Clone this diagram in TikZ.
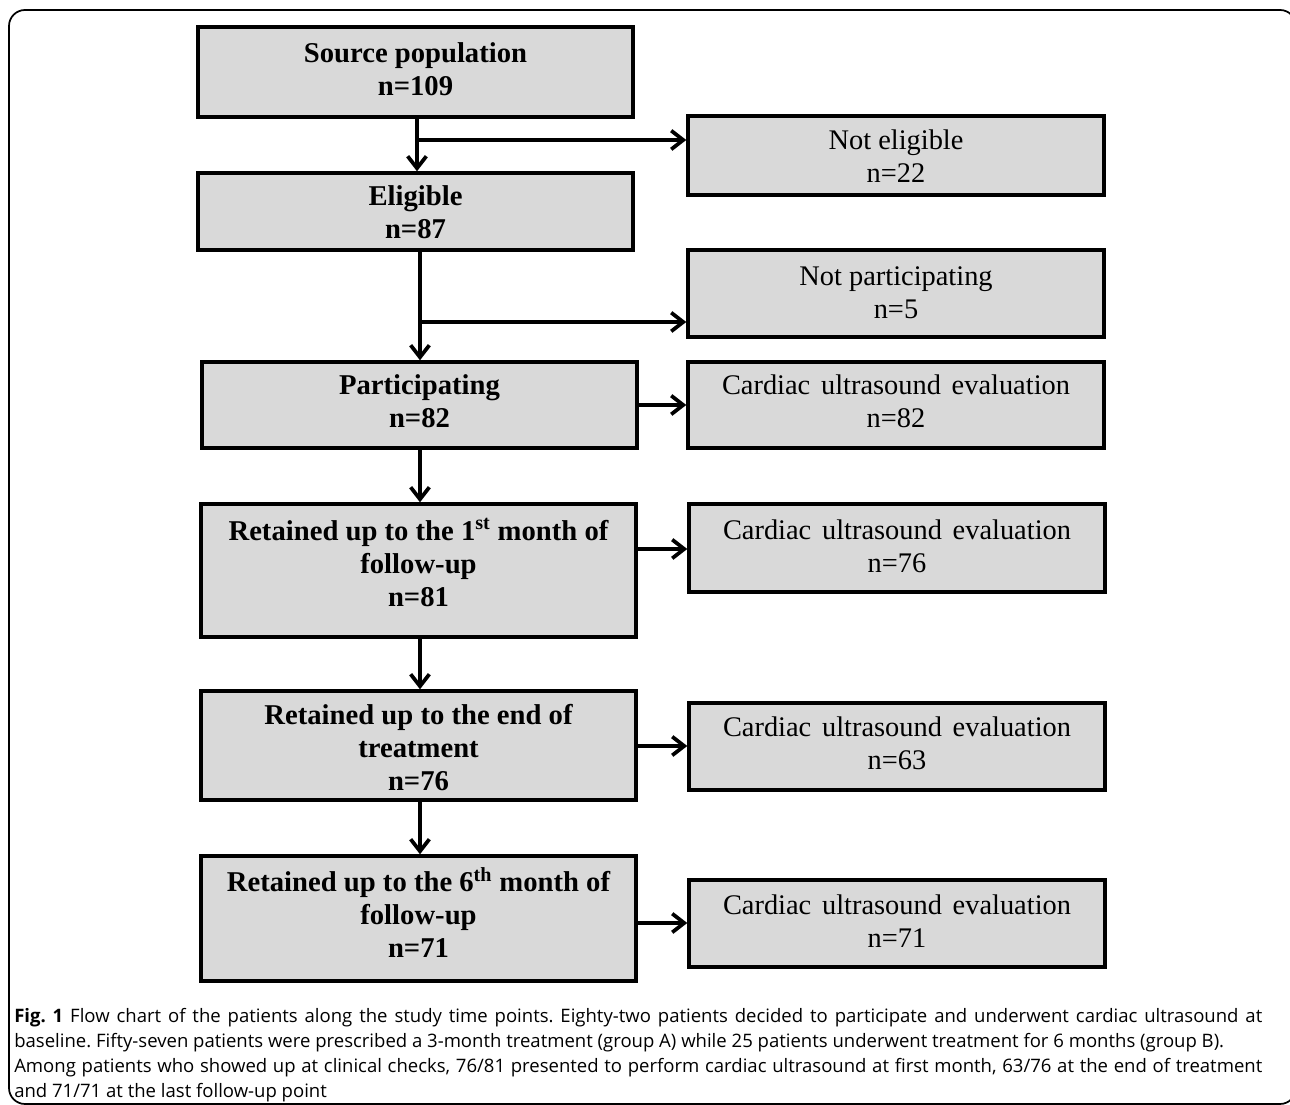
\documentclass[tikz,border=0pt]{standalone}
\usepackage{fontspec}
\setmainfont{Liberation Serif}
\newfontfamily\capfont{Open Sans}
\usetikzlibrary{arrows.meta}
\definecolor{boxgray}{HTML}{D9D9D9}
\begin{document}
\begin{tikzpicture}[x=0.75pt,y=-0.75pt,
  box/.style={draw=black, line width=2.6pt, fill=boxgray, inner sep=0pt},
  lbox/.style={box, minimum width=326.25pt},
  rbox/.style={box, minimum width=312pt},
  ltxt/.style={align=center, inner sep=0pt, font=\fontsize{21.5}{24.75}\selectfont\bfseries},
  rtxt/.style={align=center, inner sep=0pt, font=\fontsize{21.3}{24.75}\selectfont},
  conn/.style={line width=2.8pt, -{Straight Barb[length=9pt,width=14pt,line width=2.8pt]}},
  capline/.style={anchor=base west, inner sep=0pt, font=\capfont\fontsize{13.9}{16}\selectfont\frenchspacing}]
\useasboundingbox (0,0) rectangle (1290,1105);
\begin{scope}
\clip (0,0) rectangle (1290,1105);
\draw[line width=1.3pt, rounded corners=12pt] (9,10) rectangle (1296,1104);
\end{scope}

% left column
\node[lbox, minimum height=67.5pt] (src) at (415.5,72) {};
\node[lbox, minimum height=57.75pt] (elig) at (415.5,211.5) {};
\node[lbox, minimum height=64.5pt] (part) at (419.5,405) {};
\node[lbox, minimum height=99.75pt] (ret1) at (418.5,570.5) {};
\node[lbox, minimum height=81.75pt] (rete) at (418.5,745.5) {};
\node[lbox, minimum height=93.75pt] (ret6) at (418.5,918.5) {};
\node[ltxt, yshift=2.25pt] (srct) at (src.center) {Source population\\n=109};
\node[ltxt, yshift=-0.75pt] (eligt) at (elig.center) {Eligible\\n=87};
\node[ltxt, yshift=3pt] (partt) at (part.center) {Participating\\n=82};
\node[ltxt, yshift=6pt] (ret1t) at (ret1.center) {Retained up to the 1\textsuperscript{st} month of\\follow-up\\n=81};
\node[ltxt, yshift=-1.5pt] (retet) at (rete.center) {Retained up to the end of\\treatment\\n=76};
\node[ltxt, yshift=4.5pt] (ret6t) at (ret6.center) {Retained up to the 6\textsuperscript{th} month of\\follow-up\\n=71};

% right column
\node[rbox, minimum height=59.25pt] (nelig) at (896,155.5) {};
\node[rbox, minimum height=65.25pt] (npart) at (896,293.5) {};
\node[rbox, minimum height=64.5pt] (c82) at (896,405) {};
\node[rbox, minimum height=66pt] (c76) at (897,548) {};
\node[rbox, minimum height=65.25pt] (c63) at (897,746.5) {};
\node[rbox, minimum height=65.25pt] (c71) at (897,923.5) {};
\node[rtxt, yshift=-0.75pt] (neligt) at (nelig.center) {Not eligible\\n=22};
\node[rtxt, yshift=0.75pt] (npartt) at (npart.center) {Not participating\\n=5};
\node[rtxt, yshift=3pt] (c82t) at (c82.center) {\makebox[261pt][s]{Cardiac ultrasound evaluation}\\n=82};
\node[rtxt, yshift=1.5pt] (c76t) at (c76.center) {\makebox[261pt][s]{Cardiac ultrasound evaluation}\\n=76};
\node[rtxt, yshift=2.25pt] (c63t) at (c63.center) {\makebox[261pt][s]{Cardiac ultrasound evaluation}\\n=63};
\node[rtxt, yshift=1.5pt] (c71t) at (c71.center) {\makebox[261pt][s]{Cardiac ultrasound evaluation}\\n=71};

% branch points
\coordinate (b1) at (417,140);
\coordinate (b2) at (420,322);

% connectors
\draw[conn] (src.south -| b1) -- (elig.north -| b1);
\draw[conn] (b1) -- (b1 -| nelig.west);
\draw[conn] (elig.south -| b2) -- (part.north -| b2);
\draw[conn] (b2) -- (b2 -| npart.west);
\draw[conn] (part.east) -- (part.east -| c82.west);
\draw[conn] (part.south -| b2) -- (ret1.north -| b2);
\draw[conn] (ret1.east |- 0,549) -- (c76.west |- 0,549);
\draw[conn] (ret1.south -| b2) -- (rete.north -| b2);
\draw[conn] (rete.east |- 0,746) -- (c63.west |- 0,746);
\draw[conn] (rete.south -| b2) -- (ret6.north -| b2);
\draw[conn] (ret6.east |- 0,923) -- (c71.west |- 0,923);

% caption
\node[capline] (cap1) at (14,1022) {\makebox[936pt][s]{\textbf{Fig. 1} Flow chart of the patients along the study time points. Eighty-two patients decided to participate and underwent cardiac ultrasound at}};
\node[capline] (cap2) at (14,1047) {baseline. Fifty-seven patients were prescribed a 3-month treatment (group A) while 25 patients underwent treatment for 6 months (group B).};
\node[capline] (cap3) at (14,1072) {\makebox[936pt][s]{Among patients who showed up at clinical checks, 76/81 presented to perform cardiac ultrasound at first month, 63/76 at the end of treatment}};
\node[capline] (cap4) at (14,1097) {and 71/71 at the last follow-up point};
\end{tikzpicture}
\end{document}
